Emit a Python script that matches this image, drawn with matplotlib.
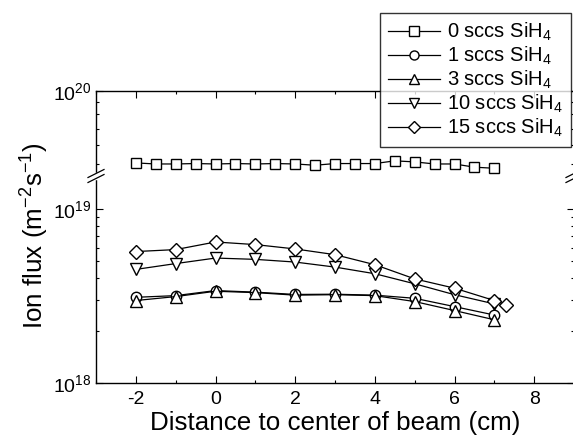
import matplotlib
matplotlib.use("Agg")
import matplotlib.pyplot as plt
from matplotlib.lines import Line2D
from matplotlib.ticker import LogLocator, NullFormatter, MultipleLocator

plt.rcParams['font.family'] = ['Liberation Sans', 'DejaVu Sans']
plt.rcParams['mathtext.default'] = 'regular'
plt.rcParams['axes.unicode_minus'] = False

# datos
x_0sccs = [-2, -1.5, -1, -0.5, 0, 0.5, 1, 1.5, 2, 2.5, 3, 3.5, 4, 4.5, 5, 5.5, 6, 6.5, 7]
flux_0sccs = [5.05e19, 5.0e19, 5.0e19, 5.02e19, 5.0e19, 5.02e19, 5.0e19, 5.02e19, 5.0e19, 4.94e19,
              5.02e19, 5.02e19, 5.02e19, 5.15e19, 5.1e19, 5.0e19, 5.0e19, 4.85e19, 4.8e19]
x_pos = [-2, -1, 0, 1, 2, 3, 4, 5, 6, 7]
flux_1sccs = [3.11e18, 3.18e18, 3.40e18, 3.33e18, 3.23e18, 3.24e18, 3.20e18, 3.07e18, 2.75e18, 2.46e18]
flux_3sccs = [2.98e18, 3.14e18, 3.37e18, 3.31e18, 3.20e18, 3.22e18, 3.18e18, 2.94e18, 2.61e18, 2.31e18]
flux_10sccs = [4.50e18, 4.86e18, 5.23e18, 5.14e18, 4.96e18, 4.64e18, 4.25e18, 3.72e18, 3.22e18, 2.85e18]
x_15sccs = [-2, -1, 0, 1, 2, 3, 4, 5, 6, 7, 7.3]
flux_15sccs = [5.70e18, 5.85e18, 6.47e18, 6.25e18, 5.90e18, 5.47e18, 4.79e18, 3.97e18, 3.51e18, 2.98e18, 2.82e18]

etiquetas = ['0 sccs SiH$_4$', '1 sccs SiH$_4$', '3 sccs SiH$_4$', '10 sccs SiH$_4$', '15 sccs SiH$_4$']

W, H = 573, 437
fig = plt.figure(figsize=(W / 100, H / 100), dpi=100)

izq = 96 / W
ancho = 478 / W
y_bajo = (H - 383) / H
y_corte = (H - 176) / H
y_alto = (H - 91) / H

axBajo = fig.add_axes([izq, y_bajo, ancho, y_corte - y_bajo])
axAlto = fig.add_axes([izq, y_corte, ancho, y_alto - y_corte], sharex=axBajo)

estilo = dict(color='black', lw=0.9, mfc='white', mec='black', mew=1.0)

axAlto.plot(x_0sccs, flux_0sccs, marker='s', ms=7, **estilo)
axBajo.plot(x_pos, flux_1sccs, marker='o', ms=7.5, **estilo)
axBajo.plot(x_pos, flux_3sccs, marker='^', ms=8, **estilo)
axBajo.plot(x_pos, flux_10sccs, marker='v', ms=8, **estilo)
axBajo.plot(x_15sccs, flux_15sccs, marker='D', ms=7, **estilo)

axBajo.set_yscale('log')
axAlto.set_yscale('log')
axBajo.set_ylim(1e18, 1.55e19)
axAlto.set_ylim(4.46e19, 1e20)
axBajo.set_xlim(-3, 9)

for ax in (axBajo, axAlto):
    ax.xaxis.set_major_locator(MultipleLocator(2))
    ax.xaxis.set_minor_locator(MultipleLocator(1))
    ax.yaxis.set_major_locator(LogLocator(base=10, numticks=10))
    ax.yaxis.set_minor_locator(LogLocator(base=10, subs=range(2, 10), numticks=10))
    ax.yaxis.set_minor_formatter(NullFormatter())
    ax.tick_params(which='both', direction='in', right=True, width=0.8, labelsize=14)
    ax.tick_params(which='major', length=5)
    ax.tick_params(which='minor', length=2.5)
    for s in ax.spines.values():
        s.set_linewidth(1.0)

axBajo.spines['top'].set_visible(False)
axBajo.tick_params(which='both', top=False, bottom=True)
axAlto.spines['bottom'].set_visible(False)
axAlto.tick_params(which='both', top=True, bottom=False, labelbottom=False)
axBajo.tick_params(axis='x', pad=6)

axBajo.set_xlabel('Distance to center of beam (cm)', fontsize=18.7, labelpad=2)
fig.text(35 / W, (H - 236) / H, 'Ion flux (m$^{-2}$s$^{-1}$)', rotation=90,
         fontsize=18.7, ha='center', va='center')

# marcas de corte del eje
for xs in (izq, izq + ancho):
    fig.add_artist(Line2D([xs, xs], [y_corte - 2 / H, y_corte + 2 / H],
                          color='white', lw=2.5, transform=fig.transFigure))
    for dy in (-2.5, 2.5):
        fig.add_artist(Line2D([xs - 8 / W, xs + 8 / W], [y_corte + (dy - 4) / H, y_corte + (dy + 4) / H],
                              color='black', lw=0.9, transform=fig.transFigure))

handles = [Line2D([], [], marker=m, ms=6.5, **estilo) for m in ['s', 'o', '^', 'v', 'D']]
leg = fig.legend(handles, etiquetas, loc='upper left', bbox_to_anchor=(380 / W, 1 - 13 / H),
                 fontsize=14.5, frameon=True, fancybox=False, edgecolor='black',
                 handlelength=2.6, handletextpad=0.35, labelspacing=0.08, borderpad=0.4,
                 borderaxespad=0)
leg.get_frame().set_linewidth(1.0)

fig.savefig('out.png', dpi=100)
